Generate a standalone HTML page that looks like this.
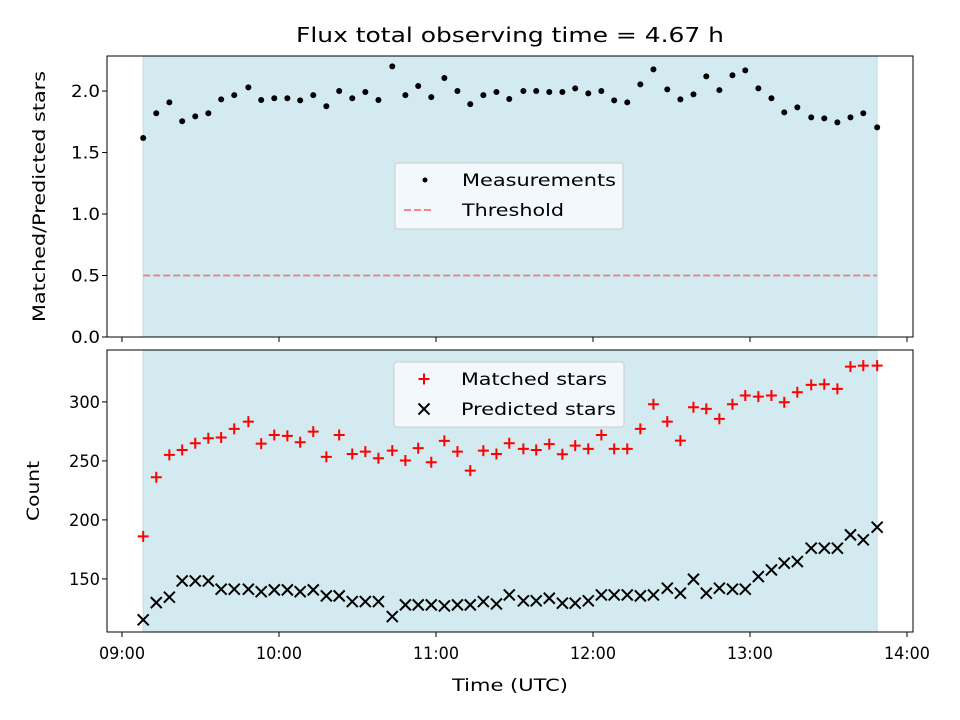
<!DOCTYPE html>
<html><head><meta charset="utf-8"><style>
html,body{margin:0;padding:0;background:#fff}
svg{display:block;font-family:"DejaVu Sans","Liberation Sans",sans-serif}
</style></head><body>
<svg id="chart" width="960" height="720" viewBox="0 0 960 720" xmlns="http://www.w3.org/2000/svg"></svg>
<script>
// minutes after 09:00 UTC
const times=[8.1,13.1,18.1,23.0,28.0,33.0,37.9,42.9,48.3,53.2,58.2,63.2,68.1,73.1,78.1,83.0,88.0,93.0,98.0,103.3,108.3,113.2,118.2,123.2,128.2,133.1,138.1,143.1,148.0,153.4,158.3,163.3,168.3,173.2,178.2,183.2,188.1,193.1,198.1,203.1,208.4,213.4,218.4,223.3,228.3,233.3,238.2,243.2,248.2,253.1,258.1,263.4,268.4,273.4,278.4,283.3,288.6];
const ratio=[1.618,1.819,1.908,1.754,1.794,1.819,1.932,1.967,2.030,1.927,1.941,1.941,1.924,1.967,1.876,2.0,1.941,1.992,1.927,2.201,1.967,2.041,1.951,2.106,2.0,1.894,1.967,1.992,1.935,2.0,2.0,1.992,1.992,2.022,1.981,2.0,1.924,1.908,2.054,2.176,2.014,1.932,1.973,2.119,2.008,2.128,2.168,2.022,1.941,1.827,1.867,1.786,1.778,1.745,1.786,1.819,1.705];
const matched=[186,236.2,255.1,259.3,265.0,269.2,269.8,277.1,283.3,264.7,272.0,271.2,265.8,274.8,253.4,272.0,255.9,257.9,252.3,258.7,250.3,260.8,248.9,267.0,257.9,241.8,258.7,255.9,265.0,260.2,259.3,264.2,255.6,263.0,260.2,272.0,260.2,260.2,277.1,298.0,283.3,267.2,295.5,294.1,285.6,298.0,305.4,304.5,305.4,299.7,308.2,314.4,315.0,311.0,329.9,330.8,330.8];
const predicted=[115.3,129.9,134.5,148.3,148.3,148.3,141.3,141.3,141.3,139.2,140.7,140.7,139.2,140.7,135.6,135.6,130.8,130.8,130.8,118.1,128.0,128.0,128.0,127.1,128.0,128.0,130.8,128.8,136.4,131.4,131.4,133.6,129.4,129.4,131.4,136.4,136.4,136.4,135.6,136.4,142.1,137.9,149.7,137.9,142.1,141.3,141.3,152.0,157.6,163.3,164.7,176.0,176.0,176.0,187.3,183.1,193.8];
const xTickLabels=["09:00","10:00","11:00","12:00","13:00","14:00"];
const xTickMinutes=[0,60,120,180,240,300];
const topTicks=[0.0,0.5,1.0,1.5,2.0];
const botTicks=[150,200,250,300];
const threshold=0.5;

const NS="http://www.w3.org/2000/svg";
const svg=document.getElementById('chart');
function mk(tag,attrs,parent){const e=document.createElementNS(NS,tag);for(const k in attrs)e.setAttribute(k,attrs[k]);(parent||svg).appendChild(e);return e;}
const L=107,R=913;
const xMin=-5.73,xMax=302.3;
const X=m=>L+(m-xMin)/(xMax-xMin)*(R-L);
const T={top:56,bot:337,min:0,max:2.285};
const B={top:350,bot:632,min:105,max:344};
const Yt=v=>T.bot-(v-T.min)/(T.max-T.min)*(T.bot-T.top);
const Yb=v=>B.bot-(v-B.min)/(B.max-B.min)*(B.bot-B.top);
const x0=X(times[0]),x1=X(times[times.length-1]);
const FS=16.7;

function shade(P,name){
  const r=mk('rect',{x:x0,y:P.top,width:x1-x0,height:P.bot-P.top,fill:'#d4eaf1',stroke:'#bcdde8','stroke-width':1});
  
  
}
shade(T,'observing-span-top');
shade(B,'observing-span-bottom');

const th=mk('line',{x1:x0,x2:x1,y1:Yt(threshold),y2:Yt(threshold),stroke:'#e77b7f','stroke-width':1.8,'stroke-dasharray':'7,3'});



const gm=mk('g',{});


times.forEach((t,i)=>{
  const c=mk('circle',{cx:X(t),cy:Yt(ratio[i]),r:3,fill:'#000'},gm);
  
  
});
const gp=mk('g',{stroke:'#ff0000','stroke-width':2});


times.forEach((t,i)=>{
  const x=X(t),y=Yb(matched[i]);
  const p=mk('path',{d:`M${x-5.5},${y}H${x+5.5}M${x},${y-5.5}V${y+5.5}`},gp);
  
  
});
const gx=mk('g',{stroke:'#000','stroke-width':2});


times.forEach((t,i)=>{
  const x=X(t),y=Yb(predicted[i]),d=5.5;
  const p=mk('path',{d:`M${x-d},${y-d}L${x+d},${y+d}M${x-d},${y+d}L${x+d},${y-d}`},gx);
  
  
});

function frame(P,name){
  const r=mk('rect',{x:L,y:P.top,width:R-L,height:P.bot-P.top,fill:'none',stroke:'#000','stroke-width':1});
  
  
}
frame(T,'top-axes-frame');frame(B,'bottom-axes-frame');
function txt(s,attrs,name,len,parent){
  if(len){attrs.textLength=len;attrs.lengthAdjust='spacingAndGlyphs';}
  const t=mk('text',attrs,parent);t.textContent=s;
  
  
  return t;
}
xTickMinutes.forEach((m,i)=>{
  const x=X(m);
  mk('line',{x1:x,x2:x,y1:T.bot,y2:T.bot+5,stroke:'#000'});
  mk('line',{x1:x,x2:x,y1:B.bot,y2:B.bot+5,stroke:'#000'});
  txt(xTickLabels[i],{x:x,y:B.bot+27,'text-anchor':'middle','font-size':FS,fill:'#000'},'x-tick-label',46);
});
topTicks.forEach(v=>{
  const y=Yt(v);
  mk('line',{x1:L-5,x2:L,y1:y,y2:y,stroke:'#000'});
  txt(v.toFixed(1),{x:L-7,y:y+6,'text-anchor':'end','font-size':FS},'top-y-tick-label',29);
});
botTicks.forEach(v=>{
  const y=Yb(v);
  mk('line',{x1:L-5,x2:L,y1:y,y2:y,stroke:'#000'});
  txt(String(v),{x:L-7,y:y+6,'text-anchor':'end','font-size':FS},'bottom-y-tick-label',31);
});
txt('Flux total observing time = 4.67 h',{x:510,y:42,'text-anchor':'middle','font-size':20},'chart-title',428);
txt('Time (UTC)',{x:510,y:691,'text-anchor':'middle','font-size':FS},'x-axis-title',116);
txt('Matched/Predicted stars',{x:0,y:0,'text-anchor':'middle','font-size':FS,transform:`translate(45,${(T.top+T.bot)/2}) rotate(-90)`},'top-y-axis-title',251);
txt('Count',{x:0,y:0,'text-anchor':'middle','font-size':FS,transform:`translate(39,${(B.top+B.bot)/2}) rotate(-90)`},'bottom-y-axis-title',60);

function legend(x,y,w,h,name,entries){
  const g=mk('g',{});
  
  
  mk('rect',{x:x,y:y,width:w,height:h,rx:3,fill:'#f5f9fc','fill-opacity':0.9,stroke:'#cccccc'},g);
  entries.forEach((e,i)=>{
    const cy=y+17+i*30;
    e.draw(g,x+30,cy);
    txt(e.label,{x:x+67,y:cy+6,'font-size':FS},'legend-entry-label',e.w,g);
  });
}
legend(395,163,228,66,'top-legend',[
  {label:'Measurements',w:154,draw:(g,x,y)=>mk('circle',{cx:x,cy:y,r:2.5,fill:'#000'},g)},
  {label:'Threshold',w:102,draw:(g,x,y)=>mk('line',{x1:x-21,x2:x+8,y1:y,y2:y,stroke:'#ff7373','stroke-width':1.8,'stroke-dasharray':'7,3'},g)}
]);
legend(394,362,230,65,'bottom-legend',[
  {label:'Matched stars',w:146,draw:(g,x,y)=>mk('path',{d:`M${x-5.5},${y}H${x+5.5}M${x},${y-5.5}V${y+5.5}`,stroke:'#ff0000','stroke-width':2},g)},
  {label:'Predicted stars',w:155,draw:(g,x,y)=>mk('path',{d:`M${x-5.5},${y-5.5}L${x+5.5},${y+5.5}M${x-5.5},${y+5.5}L${x+5.5},${y-5.5}`,stroke:'#000','stroke-width':2},g)}
]);
</script>
</body></html>
